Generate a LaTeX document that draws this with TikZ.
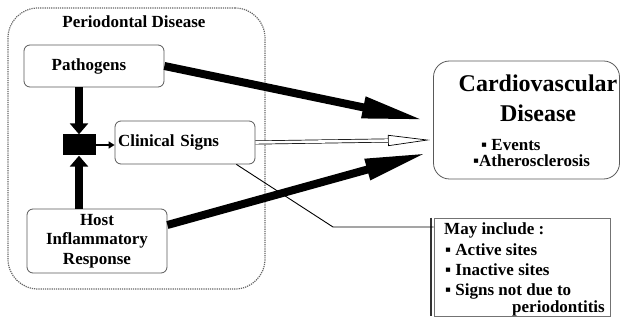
\documentclass[tikz,border=0pt]{standalone}
\usepackage{fontspec}
\setmainfont{Liberation Serif}
\usetikzlibrary{arrows.meta,calc}
\begin{document}
\begin{tikzpicture}[x=1pt,y=-1pt,
  box/.style={draw=black!65, line width=0.8pt, rounded corners=6pt, fill=white,
    font=\bfseries\fontsize{17}{19.5}\selectfont, inner sep=0pt},
  txt/.style={font=\bfseries\fontsize{17}{19}\selectfont, inner sep=0pt},
  bigtxt/.style={font=\bfseries\fontsize{24}{26}\selectfont, inner sep=0pt, anchor=base},
  fat/.style={line width=8pt, -{Triangle[length=62pt,width=20pt]}},
  vert/.style={line width=7.5pt, -{Triangle[length=11pt,width=18pt]}}]
\useasboundingbox (0,0) rectangle (621,323);

% outer periodontal frame
\node[draw=black!60, densely dotted, line width=1.2pt, rounded corners=30pt,
  minimum width=257pt, minimum height=281pt, inner sep=0pt] (pd) at (136.5,148.5) {};
\node[txt] (pdt) at (134,22) {Periodontal Disease};

\node[box, minimum width=140pt, minimum height=42pt] (path) at (94,66) {\hspace*{-10pt}Pathogens};
\node[box, minimum width=140pt, minimum height=43pt, text width=134pt, align=left, inner xsep=3pt]
  (clin) at (185,142.5) {Clinical Signs};
\node[box, minimum width=140pt, minimum height=64pt, align=center] (host) at (97,241)
  {Host\\Inflammatory\\Response};
\node[fill=black, minimum width=33pt, minimum height=21pt, inner sep=0pt] (sq) at (79,145) {};

% cardiovascular box
\node[draw=black!65, line width=0.8pt, rounded corners=16pt, minimum width=186pt,
  minimum height=118pt, inner sep=0pt] (cvd) at (526.5,120) {};
\node[bigtxt] (cv1) at (538,92) {Cardiovascular};
\node[bigtxt] (cv2) at (538,122) {Disease};
\node[txt, anchor=base west] (ev) at (481,151) {▪ Events};
\node[txt, anchor=base west] (ath) at (473,167) {▪Atherosclerosis};

% may include box
\node[draw=black!55, line width=0.8pt, minimum width=176pt, minimum height=98pt,
  inner sep=0pt] (may) at (522,267) {};
\draw[line width=1.8pt, black!80] ([xshift=-3pt]may.north west) -- ([xshift=-3pt]may.south west);
\node[txt, anchor=base west] (m1) at (444,235) {May include :};
\node[txt, anchor=base west] (m2) at (445,255) {▪ Active sites};
\node[txt, anchor=base west] (m3) at (445,275) {▪ Inactive sites};
\node[txt, anchor=base west] (m4) at (445,295) {▪ Signs not due to};
\node[txt, anchor=base east] (m5) at (605,312) {periodontitis};

% connectors
\coordinate (tip1) at (424,120);
\coordinate (tip2) at (430,140);
\coordinate (tip3) at (427,153);
\coordinate (hbase) at (388,140.5);
\coordinate (bend) at (333,227);

\draw[vert] (sq.north |- path.south) -- (sq.north);
\draw[vert] (sq.south |- host.north) -- (sq.south);
\draw[line width=2pt, -{Triangle[length=6pt,width=7pt]}] (sq.east) -- (clin.west |- sq.east);

\draw[fat] (path.east) -- (tip1);
\draw[fat] ($(host.east)+(0,-16)$) -- (tip3);

\draw[line width=0.7pt, double=white, double distance=2.6pt] (clin.east) -- (hbase);
\draw[line width=0.7pt, -{Triangle[length=42pt,width=11pt,fill=white]}] (hbase) -- (tip2);

\draw[line width=0.9pt] ($(clin.south east)+(-19,0)$) -- (bend) -- (bend -| may.west);
\end{tikzpicture}
\end{document}
